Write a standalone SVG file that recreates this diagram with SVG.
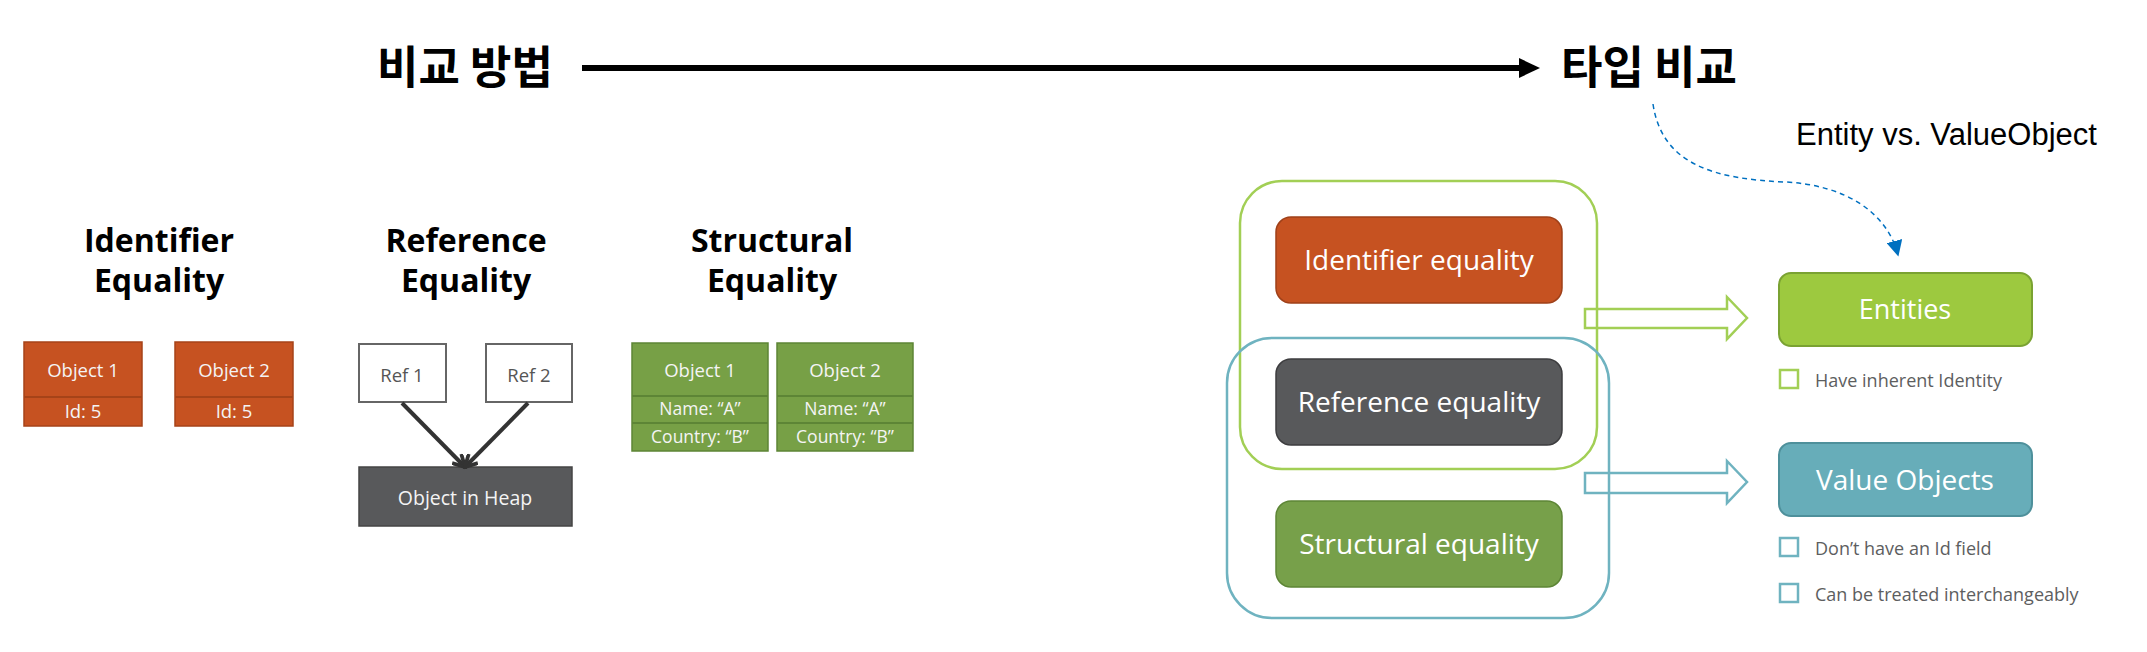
<svg xmlns="http://www.w3.org/2000/svg" width="2147" height="652" viewBox="0 0 2147 652">
<defs>
<style>
.ko{font-family:"Noto Sans CJK KR","Noto Sans",sans-serif;font-weight:700;font-size:45px;fill:#000}
.ttl{font-family:"Open Sans","Noto Sans",sans-serif;font-weight:700;font-size:32px;fill:#000;text-anchor:middle}
.ob{font-family:"Open Sans","Noto Sans",sans-serif;font-size:18.5px;fill:#f4f4f4;text-anchor:middle}
.obs{font-family:"Open Sans","Noto Sans",sans-serif;font-size:17.5px;fill:#f4f4f4;text-anchor:middle}
.ref{font-family:"Open Sans","Noto Sans",sans-serif;font-size:18.5px;fill:#555;text-anchor:middle}
.big{font-family:"Open Sans","Noto Sans",sans-serif;font-size:28px;fill:#fff;text-anchor:middle}
.chk{font-family:"Open Sans","Noto Sans",sans-serif;font-size:18px;fill:#5d5e60}
.orange{fill:#c65221;stroke:#a64318;stroke-width:1.5}
.green{fill:#77a046;stroke:#5d8536;stroke-width:1.5}
</style>
<marker id="chev" viewBox="0 0 14 14" refX="12" refY="7" markerWidth="15" markerHeight="15" markerUnits="userSpaceOnUse" orient="auto">
<path d="M1,1 L12,7 L1,13" fill="none" stroke="#333" stroke-width="3.5"/>
</marker>
<marker id="blueTri" viewBox="0 0 10 10" refX="9" refY="5" markerWidth="16" markerHeight="16" markerUnits="userSpaceOnUse" orient="auto">
<path d="M0,0 L10,5 L0,10 Z" fill="#0070c0"/>
</marker>
</defs>
<rect width="2147" height="652" fill="#fff"/>

<g id="title-left"><text class="ko" x="377" y="84">비교 방법</text></g>
<g id="title-right"><text class="ko" x="1561" y="84">타입 비교</text></g>
<g id="entity-label"><text x="1796" y="145" font-family="Liberation Sans, Arial, sans-serif" font-size="31" fill="#000">Entity vs. ValueObject</text></g>

<g id="identifier-equality">
<text class="ttl" x="159" y="252">Identifier</text>
<text class="ttl" x="159" y="292">Equality</text>
<rect class="orange" x="24" y="342" width="118" height="84"/>
<line x1="24" y1="397" x2="142" y2="397" stroke="#a64318" stroke-width="2"/>
<text class="ob" x="83" y="377">Object 1</text>
<text class="ob" x="83" y="418">Id: 5</text>
<rect class="orange" x="175" y="342" width="118" height="84"/>
<line x1="175" y1="397" x2="293" y2="397" stroke="#a64318" stroke-width="2"/>
<text class="ob" x="234" y="377">Object 2</text>
<text class="ob" x="234" y="418">Id: 5</text>
</g>

<g id="reference-equality">
<text class="ttl" x="466" y="252">Reference</text>
<text class="ttl" x="466" y="292">Equality</text>
<rect x="359" y="344" width="87" height="58" fill="#fff" stroke="#666" stroke-width="2"/>
<text class="ref" x="402" y="382">Ref 1</text>
<rect x="486" y="344" width="86" height="58" fill="#fff" stroke="#666" stroke-width="2"/>
<text class="ref" x="529" y="382">Ref 2</text>
<rect x="359" y="467" width="213" height="59" fill="#58595b" stroke="#444" stroke-width="1.5"/>
<text class="ob" x="465" y="505" style="font-size:19.5px">Object in Heap</text>
</g>

<g id="structural-equality">
<text class="ttl" x="772" y="252">Structural</text>
<text class="ttl" x="772" y="292">Equality</text>
<rect class="green" x="632" y="343" width="136" height="108"/>
<line x1="632" y1="396" x2="768" y2="396" stroke="#5d8536" stroke-width="2"/>
<line x1="632" y1="423" x2="768" y2="423" stroke="#5d8536" stroke-width="2"/>
<text class="ob" x="700" y="377">Object 1</text>
<text class="obs" x="700" y="415">Name: “A”</text>
<text class="obs" x="700" y="443">Country: “B”</text>
<rect class="green" x="777" y="343" width="136" height="108"/>
<line x1="777" y1="396" x2="913" y2="396" stroke="#5d8536" stroke-width="2"/>
<line x1="777" y1="423" x2="913" y2="423" stroke="#5d8536" stroke-width="2"/>
<text class="ob" x="845" y="377">Object 2</text>
<text class="obs" x="845" y="415">Name: “A”</text>
<text class="obs" x="845" y="443">Country: “B”</text>
</g>

<g id="connectors">
<line x1="582" y1="68" x2="1524" y2="68" stroke="#000" stroke-width="6"/>
<path d="M1519,58 L1540,68 L1519,78 Z" fill="#000"/>
<line x1="402" y1="403" x2="465" y2="467" stroke="#333" stroke-width="4" marker-end="url(#chev)"/>
<line x1="528" y1="403" x2="465" y2="467" stroke="#333" stroke-width="4" marker-end="url(#chev)"/>
<path d="M1653,104 C1662,165 1715,179 1785,182 C1845,185 1887,212 1898,255" fill="none" stroke="#0070c0" stroke-width="1.5" stroke-dasharray="5,4" marker-end="url(#blueTri)"/>
<path d="M1585,309 L1727,309 L1727,297 L1747,318 L1727,339 L1727,328 L1585,328 Z" fill="#fff" stroke="#a2cf55" stroke-width="2.5"/>
<path d="M1585,473 L1727,473 L1727,461 L1747,482 L1727,503 L1727,493 L1585,493 Z" fill="#fff" stroke="#6fb3c0" stroke-width="2.5"/>
</g>

<g id="group-green"><rect x="1240" y="181" width="357" height="288" rx="42" fill="none" stroke="#a2cf55" stroke-width="2.5"/></g>
<g id="group-blue"><rect x="1227" y="338" width="382" height="280" rx="45" fill="none" stroke="#6fb3c0" stroke-width="2.5"/></g>

<g id="identifier-box">
<rect x="1276" y="217" width="286" height="86" rx="15" fill="#c65221" stroke="#9f4019" stroke-width="1.5"/>
<text class="big" x="1419" y="270">Identifier equality</text>
</g>
<g id="reference-box">
<rect x="1276" y="359" width="286" height="86" rx="15" fill="#58595b" stroke="#3d3d3f" stroke-width="1.5"/>
<text class="big" x="1419" y="412">Reference equality</text>
</g>
<g id="structural-box">
<rect x="1276" y="501" width="286" height="86" rx="15" fill="#77a04a" stroke="#5d8536" stroke-width="1.5"/>
<text class="big" x="1419" y="554">Structural equality</text>
</g>

<g id="entities">
<rect x="1779" y="273" width="253" height="73" rx="12" fill="#9dc93f" stroke="#7aa232" stroke-width="2"/>
<text class="big" x="1905" y="319" style="font-size:27px">Entities</text>
<rect x="1780" y="370" width="18" height="18" fill="none" stroke="#a2cf55" stroke-width="2.5"/>
<text class="chk" x="1815" y="387">Have inherent Identity</text>
</g>
<g id="value-objects">
<rect x="1779" y="443" width="253" height="73" rx="12" fill="#67adb9" stroke="#4e909b" stroke-width="2"/>
<text class="big" x="1905" y="490">Value Objects</text>
<rect x="1780" y="538" width="18" height="18" fill="none" stroke="#6fb3c0" stroke-width="2.5"/>
<text class="chk" x="1815" y="555">Don’t have an Id field</text>
<rect x="1780" y="584" width="18" height="18" fill="none" stroke="#6fb3c0" stroke-width="2.5"/>
<text class="chk" x="1815" y="601">Can be treated interchangeably</text>
</g>
</svg>
